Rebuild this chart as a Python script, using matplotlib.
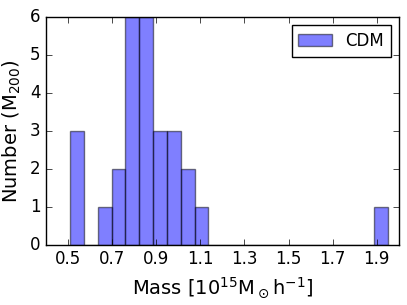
import numpy as np
import matplotlib
matplotlib.use('Agg')
import matplotlib.pyplot as plt

# histogram of halo masses (counts per bin)
bin_lo = 0.51
bin_hi = 1.95
counts = [3, 0, 1, 2, 6, 6, 3, 3, 2, 1,
          0, 0, 0, 0, 0, 0, 0, 0, 0, 0, 0, 0, 1]
xticks = [0.5, 0.7, 0.9, 1.1, 1.3, 1.5, 1.7, 1.9]
yticks = [0, 1, 2, 3, 4, 5, 6]

plt.style.use('classic')
plt.rcParams['mathtext.fontset'] = 'dejavusans'

edges = np.linspace(bin_lo, bin_hi, len(counts) + 1)
width = edges[1] - edges[0]

fig = plt.figure(figsize=(4.07, 3.05), dpi=100, facecolor='white')
ax = fig.add_axes([0.113, 0.197, 0.867, 0.747])

ax.bar(edges[:-1], counts, width=width, align='edge', color='b',
       alpha=0.5, edgecolor='k', linewidth=1, label='CDM')

ax.set_xlim(0.4, 2.0)
ax.set_ylim(0, 6)
ax.set_xticks(xticks)
ax.set_yticks(yticks)
ax.tick_params(labelsize=12)
ax.set_xlabel(r'Mass [$10^{15}\mathrm{M}_\odot\mathrm{h}^{-1}$]', fontsize=14)
ax.set_ylabel(r'Number (M$_{200}$)', fontsize=14)

ax.legend(loc='upper right', fontsize=12)

fig.savefig('out.png', dpi=100, facecolor='white')
